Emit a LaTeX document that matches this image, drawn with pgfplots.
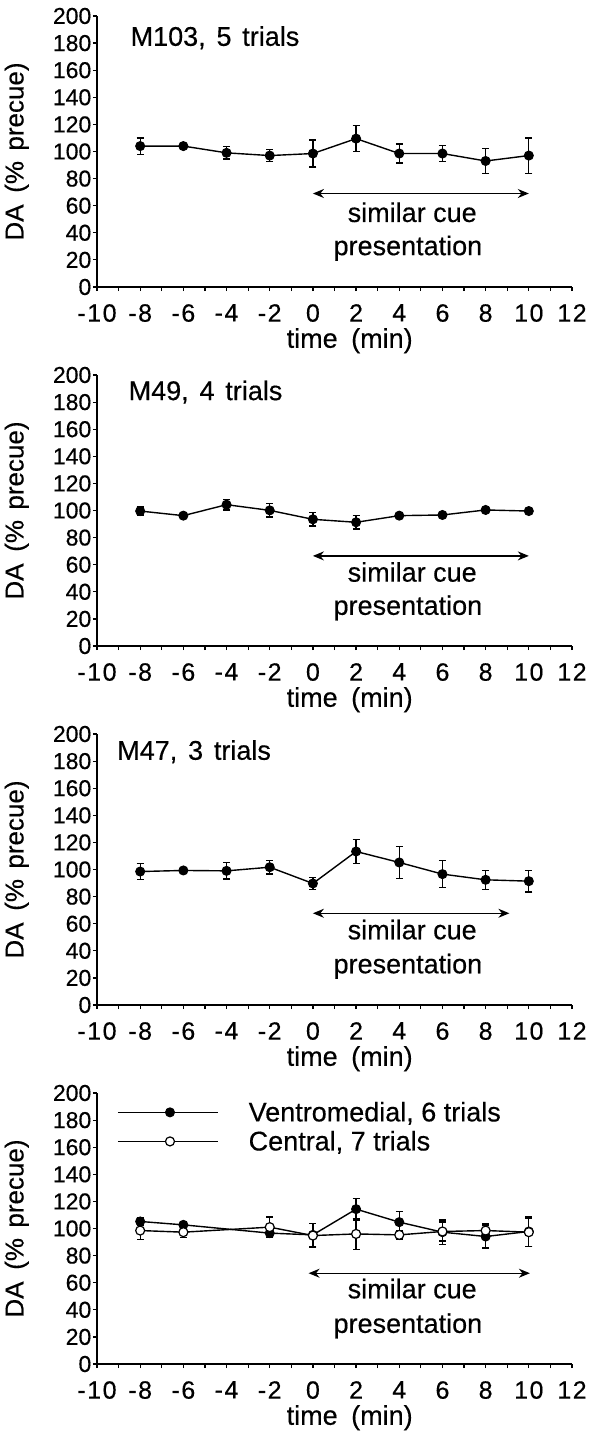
\documentclass[border=0pt]{standalone}
\usepackage{fontspec}
\setmainfont{Liberation Sans}[FakeBold=0.4]
\usepackage{pgfplots}
\pgfplotsset{compat=1.18}
\usetikzlibrary{arrows.meta}

\newcommand\fs{\fontsize{27}{31}\selectfont}

\pgfplotsset{
  dapanel/.style={
    scale only axis, width=475pt, height=271pt,
    xmin=-10, xmax=12, ymin=0, ymax=200,
    clip=false,
    axis lines=left,
    axis line style={-, line width=1.6pt},
    xtick={-10,-8,...,12},
    xticklabels={-10,-8,-6,-4,-2,0,2,4,6,8,10,12},
    minor x tick num=1,
    ytick={0,20,...,200},
    yticklabels={0,20,40,60,80,100,120,140,160,180,200},
    tick align=outside,
    major tick length=4pt, minor tick length=4pt,
    tick style={black, line width=1.2pt},
    x tick label style={font=\fontsize{25}{25}\selectfont\addfontfeature{LetterSpace=6}, inner sep=1pt, yshift=-12pt},
    y tick label style={font=\fontsize{23}{23}\selectfont, inner sep=1.5pt},
    xlabel={time\hspace{.5em}(min)},
    xlabel style={font=\fs, at={(axis description cs:0.532,0)}, anchor=north, inner sep=0pt, yshift=-41pt},
    ylabel={DA\hspace{.45em}(\%\hspace{.4em}precue)},
    ylabel style={font=\fontsize{26}{30}\selectfont, at={(axis description cs:-0.143,0.5)}, anchor=south, inner sep=0pt},
  },
  pts/.style={black, line width=1.4pt, mark=*, mark size=4.5pt,
    mark options={solid, fill=black, line width=1pt},
    error bars/.cd, y dir=both, y explicit,
    error bar style={line width=1.3pt, black},
    error mark options={rotate=90, mark size=3.5pt, line width=1.3pt}},
  opts/.style={black, line width=1.4pt, mark=*, mark size=4.5pt,
    mark options={solid, fill=white, line width=1.2pt},
    error bars/.cd, y dir=both, y explicit,
    error bar style={line width=1.3pt, black},
    error mark options={rotate=90, mark size=3.5pt, line width=1.3pt}},
  cue/.style={black, line width=1.3pt, forget plot,
    {Stealth[length=11pt,width=9pt]}-{Stealth[length=11pt,width=9pt]}},
}

\pgfplotstableread{
x y e
-8 104 6
-6 104 1
-4 99 4.5
-2 97 4.5
0 98.5 10
2 109.5 9.5
4 98.5 7
6 98.5 6
8 93 9
10 97 13
}\mone

\pgfplotstableread{
x y e
-8 99.6 3
-6 96.2 2
-4 104.3 4
-2 100.1 5
0 93.5 5
2 91.3 5
4 96.2 1.5
6 96.7 1.5
8 100.4 1.5
10 99.6 1
}\mtwo

\pgfplotstableread{
x y e
-8 98.5 6
-6 99.3 1.5
-4 99 6
-2 101.7 5
0 89.7 4.5
2 113.3 9
4 105.2 12
6 96.6 10
8 92.4 7
10 91.4 8
}\mthree

\pgfplotstableread{
x y e
-8 105.2 3
-6 102.7 2
-2 96.6 3
0 95.3 8.5
2 114.3 8
4 104.7 8
6 97.3 9
8 94.1 8.5
10 97.8 11
}\ventro

\pgfplotstableread{
x y e
-8 98.5 6.5
-6 97.3 4
-2 101 7.5
0 94.8 9
2 96 11.5
4 95.3 3
6 97.8 7
8 98.5 5
10 97.3 10.5
}\central

\begin{document}
\begin{tikzpicture}
\path[use as bounding box] (-97pt,287pt) rectangle (496pt,-1145pt);

% M103
\begin{axis}[dapanel, at={(0pt,0pt)}, anchor=south west]
  \addplot[pts] table[x=x, y=y, y error=e] {\mone};
  \addplot[cue] coordinates {(0,69) (10,69)};
  \node[font=\fs, anchor=base west, inner sep=0pt] at (axis cs:-8.45,178) {M103,\hspace{.4em}5\hspace{.4em}trials};
  \node[font=\fs, anchor=base, inner sep=0pt] at (axis cs:4.6,48) {similar cue};
  \node[font=\fs, anchor=base, inner sep=0pt] at (axis cs:4.4,23.5) {presentation};
\end{axis}

% M49
\begin{axis}[dapanel, at={(0pt,-359pt)}, anchor=south west]
  \addplot[pts] table[x=x, y=y, y error=e] {\mtwo};
  \addplot[cue] coordinates {(0,66.5) (10,66.5)};
  \node[font=\fs, anchor=base west, inner sep=0pt] at (axis cs:-8.54,181.5) {M49,\hspace{.4em}4\hspace{.4em}trials};
  \node[font=\fs, anchor=base, inner sep=0pt] at (axis cs:4.6,47.5) {similar cue};
  \node[font=\fs, anchor=base, inner sep=0pt] at (axis cs:4.4,23) {presentation};
\end{axis}

% M47
\begin{axis}[dapanel, at={(0pt,-718pt)}, anchor=south west]
  \addplot[pts] table[x=x, y=y, y error=e] {\mthree};
  \addplot[cue] coordinates {(0,67.7) (9.1,67.7)};
  \node[font=\fs, anchor=base west, inner sep=0pt] at (axis cs:-9.07,181) {M47,\hspace{.4em}3\hspace{.4em}trials};
  \node[font=\fs, anchor=base, inner sep=0pt] at (axis cs:4.6,48.5) {similar cue};
  \node[font=\fs, anchor=base, inner sep=0pt] at (axis cs:4.4,23.4) {presentation};
\end{axis}

% pooled
\begin{axis}[dapanel, at={(0pt,-1077pt)}, anchor=south west,
  legend style={at={(axis description cs:0.0423,0.875)}, anchor=west,
    draw=none, fill=none, inner sep=0pt, font=\fs, row sep=8pt,
    nodes={inner sep=0pt},
    /tikz/every odd column/.append style={column sep=30pt}},
  legend cell align=left,
  legend image code/.code={\draw[mark repeat=2,mark phase=2,#1] plot coordinates {(0pt,0pt) (52pt,0pt) (100pt,0pt)};}]
  \addplot[pts] table[x=x, y=y, y error=e] {\ventro};
  \addlegendentry{Ventromedial, 6 trials}
  \addplot[opts] table[x=x, y=y, y error=e] {\central};
  \addlegendentry{Central, 7 trials}
  \addplot[cue] coordinates {(-0.2,67) (10.05,67)};
  \node[font=\fs, anchor=base, inner sep=0pt] at (axis cs:4.6,48.5) {similar cue};
  \node[font=\fs, anchor=base, inner sep=0pt] at (axis cs:4.4,23) {presentation};
\end{axis}
\end{tikzpicture}
\end{document}
